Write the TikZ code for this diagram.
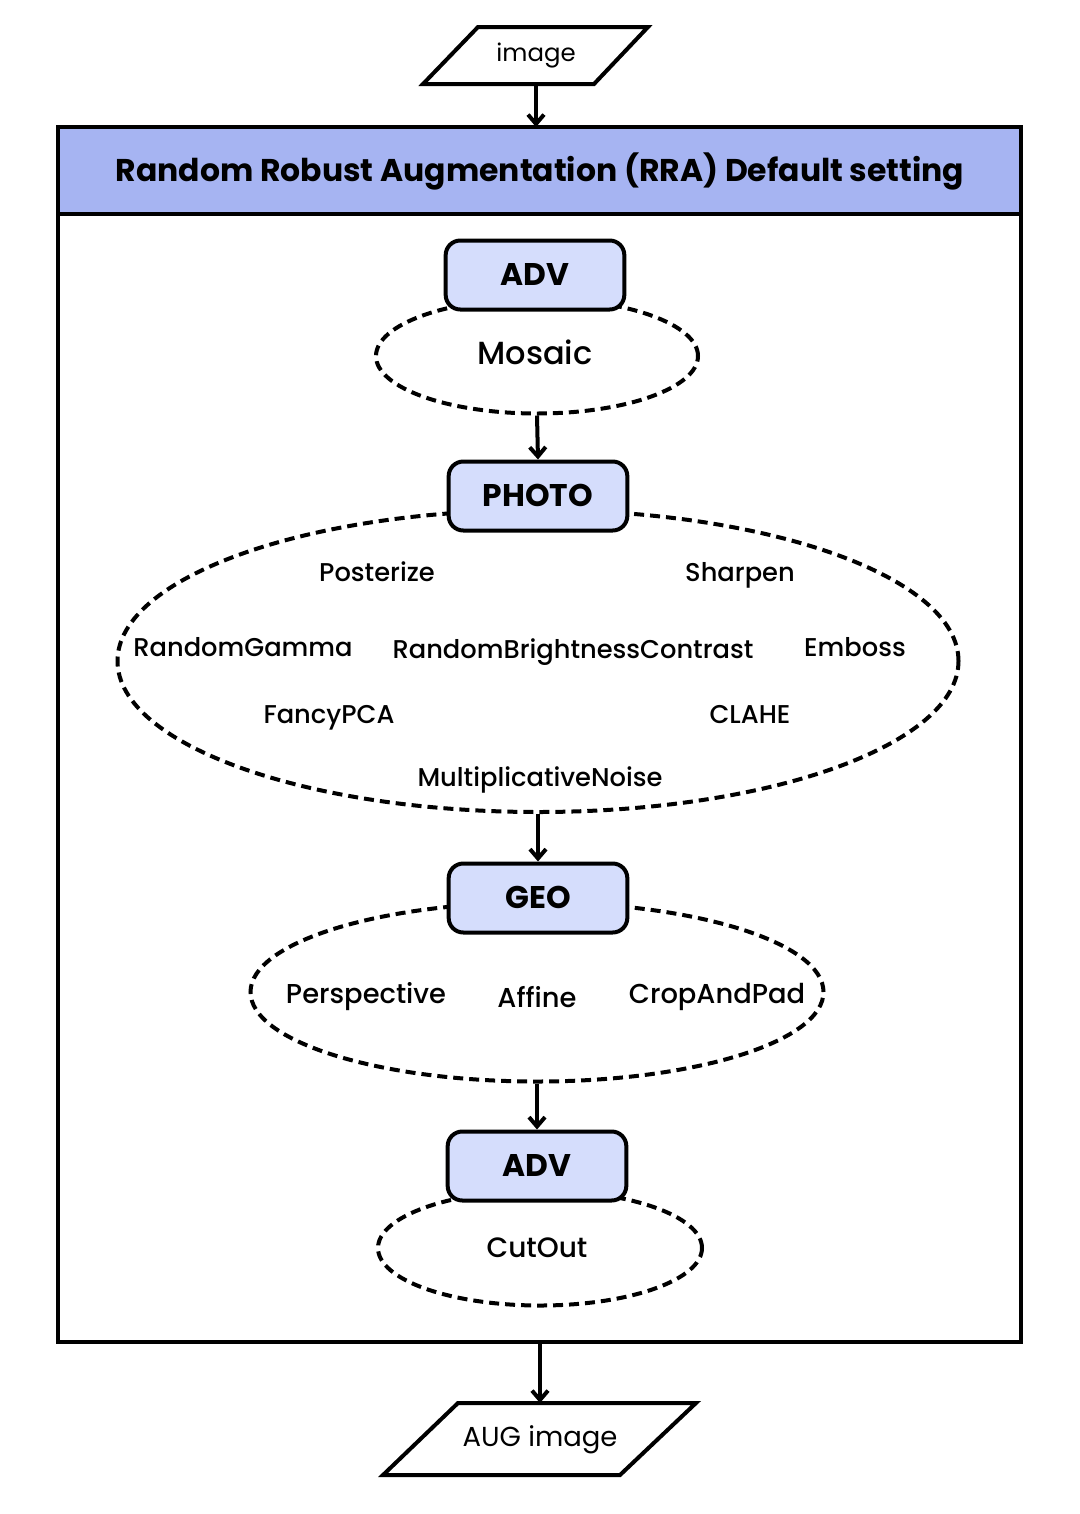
\documentclass[tikz,border=0pt]{standalone}
\usepackage{fontspec}
\setmainfont{Poppins}
\newfontfamily\medfont{Poppins Medium}
\usetikzlibrary{shapes.geometric,arrows.meta}
\definecolor{hdr}{RGB}{166,180,242}
\definecolor{boxc}{RGB}{213,221,252}
\tikzset{
  thick line/.style={line width=3pt},
  stagebox/.style={draw, thick line, fill=boxc, rounded corners=11pt, minimum width=134pt, minimum height=51.75pt, font=\fontsize{23.5}{26}\selectfont\bfseries, inner sep=0pt, text height=16.4pt, text depth=0pt},
  groupell/.style={draw, thick line, ellipse, dash pattern=on 7.5pt off 4.5pt, inner sep=0pt},
  lbl/.style={font=\fontsize{19.3}{23}\selectfont\medfont, inner sep=0pt, text height=13.5pt, text depth=0pt},
  geolbl/.style={font=\fontsize{20.5}{24}\selectfont\medfont, inner sep=0pt, text height=14.3pt, text depth=0pt},
  iolbl/.style={inner sep=0pt},
  arr/.style={thick line, -{Straight Barb[length=7pt,width=12pt,line width=3pt]}},
  para/.style={draw, thick line, line join=miter}
}
\begin{document}
\begin{tikzpicture}[x=0.75pt,y=-0.75pt,thick line]
\useasboundingbox (0,0) rectangle (1080,1514);
% input parallelogram
\draw[para] (478,27) -- (648,27) -- (594,84) -- (423,84) -- cycle;
\node[iolbl, font=\fontsize{18.3}{21}\selectfont] (in) at (536,56) {image};
\coordinate (inb) at (536,84);
% outer box
\draw[thick line, fill=hdr] (58,127) rectangle (1021,214);
\draw[thick line] (58,127) rectangle (1021,1342);
\node[font=\fontsize{23.6}{26}\selectfont\bfseries, inner sep=0pt, text height=16.5pt, text depth=0pt] (title) at (540,170) {Random Robust Augmentation (RRA) Default setting};
\coordinate (outt) at (536,127);
\coordinate (outb) at (540,1342);
% ellipses
\node[groupell, minimum width=241.5pt, minimum height=86.25pt] (e1) at (537,356) {};
\node[groupell, minimum width=630.75pt, minimum height=226.5pt] (e2) at (538,661) {};
\node[groupell, minimum width=429.75pt, minimum height=134.25pt] (e3) at (537,992) {};
\node[groupell, minimum width=243pt, minimum height=86.25pt] (e4) at (540,1248) {};
% boxes
\node[stagebox] (adv1) at (535,275) {ADV};
\node[stagebox] (photo) at (538,496) {PHOTO};
\node[stagebox] (geo) at (538,898) {GEO};
\node[stagebox] (adv2) at (537,1166) {ADV};
% labels
\node[lbl, font=\fontsize{24}{27}\selectfont\medfont, text height=16.8pt] (mosaic) at (535,353) {Mosaic};
\node[lbl] (p1) at (377,572) {Posterize};
\node[lbl] (p2) at (740,572) {Sharpen};
\node[lbl] (p3) at (243,647) {RandomGamma};
\node[lbl] (p4) at (573,649) {RandomBrightnessContrast};
\node[lbl] (p5) at (855,647) {Emboss};
\node[lbl] (p6) at (329,714) {FancyPCA};
\node[lbl] (p7) at (750,714) {CLAHE};
\node[lbl] (p8) at (540,777) {MultiplicativeNoise};
\node[geolbl] (g1) at (366,994) {Perspective};
\node[geolbl] (g2) at (537,998) {Affine};
\node[geolbl] (g3) at (717,994) {CropAndPad};
\node[geolbl, font=\fontsize{21}{24}\selectfont\medfont, text height=14.7pt] (c1) at (537,1248) {CutOut};
% output parallelogram
\draw[para] (458,1403) -- (696,1403) -- (620,1475) -- (383,1475) -- cycle;
\node[iolbl, font=\fontsize{20.6}{24}\selectfont] (outimg) at (540,1440) {AUG image};
\coordinate (outp) at (540,1403);
% arrows
\draw[arr] (inb) -- (outt);
\draw[arr] (e1.south) -- (photo.north);
\draw[arr] (e2.south) -- (geo.north);
\draw[arr] (e3.south) -- (adv2.north);
\draw[arr] (outb) -- (outp);
\end{tikzpicture}
\end{document}
